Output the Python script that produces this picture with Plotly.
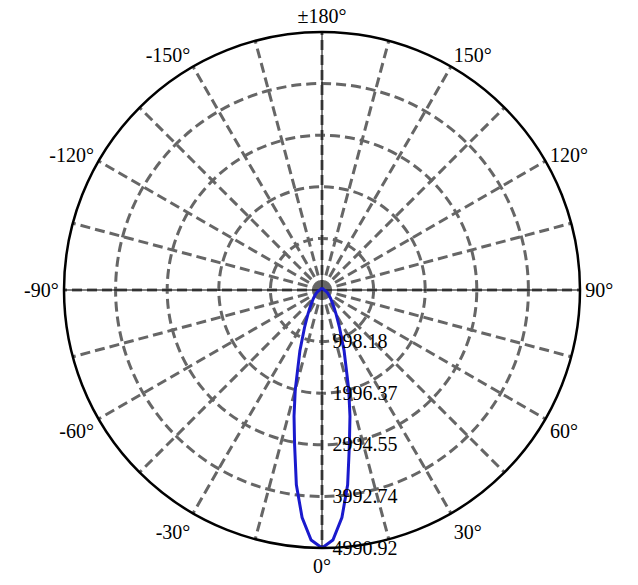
import plotly.graph_objects as go

# Luminous intensity distribution (cd) vs angle (deg), symmetric beam
angles_half = [0, 2.5, 5, 7.5, 10, 12.5, 15, 20, 25, 30, 35, 40, 45, 50, 60, 70, 80, 90, 100, 120, 150, 180]
intensity_half = [4990.92, 4840, 4420, 3800, 3050, 2500, 2000, 1250, 800, 550, 400, 300, 240, 190, 130, 90, 60, 40, 35, 32, 30, 30]

radial_ticks = [998.18, 1996.37, 2994.55, 3992.74, 4990.92]
radial_labels = ["998.18", "1996.37", "2994.55", "3992.74", "4990.92"]

angle_ticks = list(range(0, 360, 15))
angle_label_map = {0: "0°", 30: "30°", 60: "60°", 90: "90°", 120: "120°", 150: "150°",
                   180: "±180°", 210: "-150°", 240: "-120°", 270: "-90°", 300: "-60°", 330: "-30°"}
angle_labels = [angle_label_map.get(a, "") for a in angle_ticks]

# full curve: -180..180
theta = [-a for a in reversed(angles_half)] + angles_half[1:]
r = list(reversed(intensity_half)) + intensity_half[1:]

r_max = radial_ticks[-1]

W, H = 638, 585
fig = go.Figure()
# thin black axis cross lines
for th in ([0, 180], [90, 270]):
    fig.add_trace(go.Scatterpolar(r=[r_max, 0, r_max], theta=th[:1] + [0] + th[1:],
                                  mode="lines", line=dict(color="black", width=1),
                                  hoverinfo="skip", showlegend=False))
fig.add_trace(go.Scatterpolar(r=r, theta=theta, mode="lines",
                              line=dict(color="#1a1acd", width=3), showlegend=False))

fig.update_layout(
    width=W, height=H,
    margin=dict(l=0, r=0, t=0, b=0),
    paper_bgcolor="white",
    showlegend=False,
    font=dict(family="Liberation Serif", size=20, color="black"),
    polar=dict(
        bgcolor="white",
        domain=dict(x=[64 / W, 580 / W], y=[(H - 548) / H, (H - 32) / H]),
        angularaxis=dict(
            rotation=-90, direction="counterclockwise",
            tickmode="array", tickvals=angle_ticks, ticktext=angle_labels,
            showline=True, linecolor="black", linewidth=2.5,
            gridcolor="#666666", gridwidth=3, griddash="10px,5px",
            ticks="", tickfont=dict(size=20, family="Liberation Serif"),
        ),
        radialaxis=dict(
            range=[0, r_max], angle=-90, tickangle=-90, side="counterclockwise",
            tickmode="array", tickvals=radial_ticks, ticktext=radial_labels,
            showline=False, ticks="outside", ticklen=6, tickcolor="rgba(0,0,0,0)",
            gridcolor="#666666", gridwidth=3, griddash="10px,5px",
            tickfont=dict(size=20, family="Liberation Serif"),
        ),
    ),
)

fig.write_html("out.html", config={"displayModeBar": False},
               post_script="document.body.style.margin='0px';")
